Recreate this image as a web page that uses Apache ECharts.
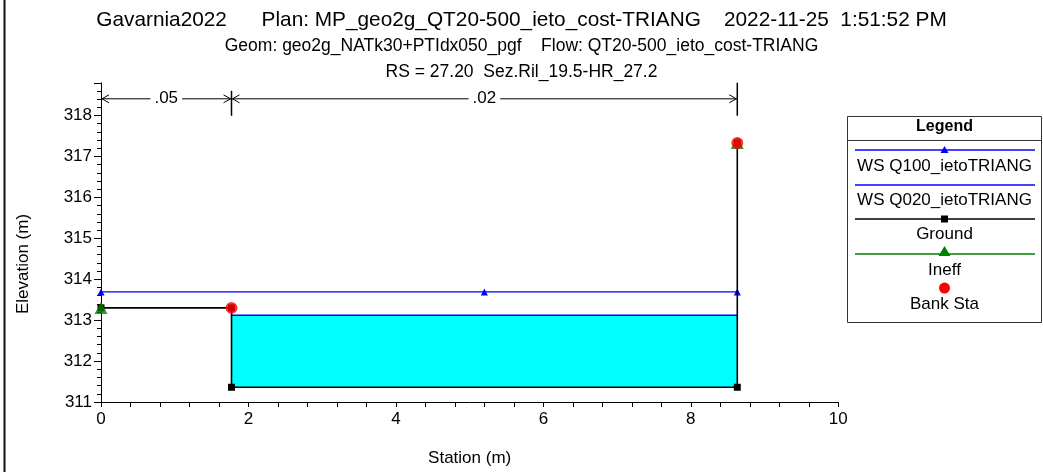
<!DOCTYPE html>
<html><head><meta charset="utf-8">
<script src="https://cdn.jsdelivr.net/npm/echarts@6/dist/echarts.min.js"></script>
<style>html,body{margin:0;padding:0;background:#fff}#c{width:1043px;height:472px}</style>
</head><body><div id="c"></div>
<script>
// ---- data ----
const titleLine1 = 'Gavarnia2022      Plan: MP_geo2g_QT20-500_ieto_cost-TRIANG    2022-11-25  1:51:52 PM';
const titleLine2 = 'Geom: geo2g_NATk30+PTIdx050_pgf    Flow: QT20-500_ieto_cost-TRIANG';
const titleLine3 = 'RS = 27.20  Sez.Ril_19.5-HR_27.2';
const xAxisName = 'Station (m)';
const yAxisName = 'Elevation (m)';
const ground = [[0, 313.30], [1.77, 313.30], [1.77, 311.36], [8.63, 311.36], [8.63, 317.33]];
const wsQ100 = [[0, 313.69], [5.2, 313.69], [8.63, 313.69]];
const wsQ020 = [[1.77, 313.12], [8.63, 313.12]];
const ineff = [[0, 313.30], [8.63, 317.33]];
const bankSta = [[1.77, 313.30], [8.63, 317.33]];
const nStations = [0, 1.77, 8.63];
const nValues = ['.05', '.02'];
const legendNames = ['WS Q100_ietoTRIANG', 'WS Q020_ietoTRIANG', 'Ground', 'Ineff', 'Bank Sta'];
const xRange = [0, 10];
const yRange = [311, 318.8];

// ---- styling ----
const FONT = 'Liberation Sans, Arial, sans-serif';
const BLUE = '#0000ff', CYAN = '#00ffff', GREEN = '#008000', RED = '#ff0000';

const chart = echarts.init(document.getElementById('c'), null, {renderer: 'canvas'});

const segments = nValues.map((v, i) => [nStations[i], nStations[i + 1], v, i === nValues.length - 1 ? 1 : 0]);

// fill polygon: water surface Q020 down to the ground inside its extent
function fillPolygon() {
  const x0 = wsQ020[0][0], x1 = wsQ020[wsQ020.length - 1][0], lvl = wsQ020[0][1];
  const g = ground.filter(p => p[0] >= x0 && p[0] <= x1 && p[1] <= lvl);
  return wsQ020.slice().concat(g.slice().reverse());
}

// legend graphics
const LX0 = 847.5, LX1 = 1041.5, LY0 = 116.5, LY1 = 322.5;
const lcx = (LX0 + LX1) / 2, la = 855, lb = 1035;
const legendGraphic = [
  {type: 'rect', shape: {x: LX0, y: LY0, width: LX1 - LX0, height: LY1 - LY0}, style: {fill: '#fff', stroke: '#333', lineWidth: 1}},
  {type: 'line', shape: {x1: LX0, y1: 140.5, x2: LX1, y2: 140.5}, style: {stroke: '#333', lineWidth: 1}},
  {type: 'text', style: {text: 'Legend', x: lcx, y: 127, align: 'center', verticalAlign: 'middle', font: 'bold 16px ' + FONT, fill: '#000'}},
  // WS Q100
  {type: 'line', shape: {x1: la, y1: 150, x2: lb, y2: 150}, style: {stroke: BLUE, lineWidth: 1.3}},
  {type: 'polygon', shape: {points: [[lcx, 146], [lcx - 4, 153], [lcx + 4, 153]]}, style: {fill: BLUE}},
  {type: 'text', style: {text: legendNames[0], x: lcx, y: 166, align: 'center', verticalAlign: 'middle', font: '17px ' + FONT, fill: '#000'}},
  // WS Q020
  {type: 'line', shape: {x1: la, y1: 185, x2: lb, y2: 185}, style: {stroke: BLUE, lineWidth: 1.3}},
  {type: 'text', style: {text: legendNames[1], x: lcx, y: 200, align: 'center', verticalAlign: 'middle', font: '17px ' + FONT, fill: '#000'}},
  // Ground
  {type: 'line', shape: {x1: la, y1: 219, x2: lb, y2: 219}, style: {stroke: '#000', lineWidth: 1.3}},
  {type: 'rect', shape: {x: lcx - 3.5, y: 215.5, width: 7, height: 7}, style: {fill: '#000'}},
  {type: 'text', style: {text: legendNames[2], x: lcx, y: 234, align: 'center', verticalAlign: 'middle', font: '17px ' + FONT, fill: '#000'}},
  // Ineff
  {type: 'line', shape: {x1: la, y1: 254, x2: lb, y2: 254}, style: {stroke: GREEN, lineWidth: 1.3}},
  {type: 'polygon', shape: {points: [[lcx, 246], [lcx - 6, 256], [lcx + 6, 256]]}, style: {fill: GREEN}},
  {type: 'text', style: {text: legendNames[3], x: lcx, y: 270, align: 'center', verticalAlign: 'middle', font: '17px ' + FONT, fill: '#000'}},
  // Bank Sta
  {type: 'circle', shape: {cx: lcx, cy: 288, r: 5.5}, style: {fill: RED}},
  {type: 'text', style: {text: legendNames[4], x: lcx, y: 304, align: 'center', verticalAlign: 'middle', font: '17px ' + FONT, fill: '#000'}},
  // left page border
  {type: 'rect', shape: {x: 3.5, y: 0, width: 2, height: 472}, style: {fill: '#111'}},
  // y axis name
  {type: 'text', rotation: Math.PI / 2, x: 23, y: 264, style: {text: yAxisName, x: 0, y: 0, align: 'center', verticalAlign: 'middle', font: '17px ' + FONT, fill: '#000'}}
];

const option = {
  animation: false,
  backgroundColor: '#fff',
  title: [
    {text: titleLine1, left: 'center', top: 5, textStyle: {fontFamily: FONT, fontSize: 20.8, fontWeight: 'normal', color: '#000'}},
    {text: titleLine2, left: 'center', top: 32, textStyle: {fontFamily: FONT, fontSize: 17.5, fontWeight: 'normal', color: '#000'}},
    {text: titleLine3, left: 'center', top: 58, textStyle: {fontFamily: FONT, fontSize: 17.5, fontWeight: 'normal', color: '#000'}}
  ],
  grid: {left: 101, right: 204.7, top: 82.8, bottom: 65.3, containLabel: false},
  xAxis: {
    type: 'value', min: xRange[0], max: xRange[1], interval: 2,
    name: xAxisName, nameLocation: 'middle', nameGap: 48,
    nameTextStyle: {fontFamily: FONT, fontSize: 17, color: '#000'},
    axisLine: {show: true, onZero: false, lineStyle: {color: '#000', width: 1}},
    axisTick: {show: true, length: 5, lineStyle: {color: '#000'}},
    minorTick: {show: true, splitNumber: 5, length: 5, lineStyle: {color: '#000'}},
    axisLabel: {fontFamily: FONT, fontSize: 17, color: '#000', margin: 9},
    splitLine: {show: false}
  },
  yAxis: {
    type: 'value', min: yRange[0], max: yRange[1], interval: 1,
    axisLine: {show: true, onZero: false, lineStyle: {color: '#000', width: 1}},
    axisTick: {show: true, length: 7, lineStyle: {color: '#000'}},
    minorTick: {show: true, splitNumber: 5, length: 4, lineStyle: {color: '#000'}},
    axisLabel: {fontFamily: FONT, fontSize: 17, color: '#000', margin: 9,
      formatter: v => (Math.abs(v - Math.round(v)) < 1e-6 ? String(Math.round(v)) : '')},
    splitLine: {show: false}
  },
  graphic: legendGraphic,
  series: [
    {
      type: 'custom', name: 'fill', z: 1, silent: true,
      data: [0],
      renderItem: (params, api) => ({
        type: 'polygon',
        shape: {points: fillPolygon().map(p => api.coord(p))},
        style: {fill: CYAN}
      })
    },
    {type: 'line', name: legendNames[0], data: wsQ100, z: 3, symbol: 'triangle', symbolSize: 7,
      itemStyle: {color: BLUE}, lineStyle: {color: BLUE, width: 1.3}},
    {type: 'line', name: legendNames[1], data: wsQ020, z: 3, showSymbol: false, symbol: 'none',
      lineStyle: {color: BLUE, width: 1.5}},
    {type: 'line', name: legendNames[2], data: ground, z: 4, symbol: 'rect', symbolSize: 7,
      itemStyle: {color: '#000'}, lineStyle: {color: '#000', width: 1.6}},
    {type: 'scatter', name: legendNames[3], data: ineff, z: 5, symbol: 'triangle', symbolSize: [13, 12],
      itemStyle: {color: GREEN}},
    {type: 'scatter', name: legendNames[4], data: bankSta, z: 6, symbol: 'circle', symbolSize: 12,
      itemStyle: {color: RED}},
    {
      type: 'custom', name: 'n', z: 7, silent: true, clip: false,
      data: segments,
      encode: {x: [0, 1]},
      renderItem: (params, api) => {
        const cs = params.coordSys;
        const top = cs.y;
        const pa = api.coord([api.value(0), yRange[0]]);
        const pb = api.coord([api.value(1), yRange[0]]);
        const xa = pa[0], xb = pb[0];
        const ay = top + 16;
        const isLast = api.value(3) === 1;
        const label = segments[params.dataIndex][2];
        const st = {stroke: '#000', lineWidth: 1, fill: null};
        return {
          type: 'group',
          children: [
            {type: 'line', shape: {x1: xa, y1: ay, x2: xb, y2: ay}, style: st},
            {type: 'polyline', shape: {points: [[xa + 8, ay - 4], [xa + 1, ay], [xa + 8, ay + 4]]}, style: st},
            {type: 'polyline', shape: {points: [[xb - 8, ay - 4], [xb - 1, ay], [xb - 8, ay + 4]]}, style: st},
            {type: 'line', shape: {x1: xb, y1: isLast ? top : top + 8, x2: xb, y2: top + 33}, style: {stroke: '#000', lineWidth: 1.5}},
            {type: 'text', style: {text: label, x: (xa + xb) / 2, y: ay, align: 'center', verticalAlign: 'middle',
              font: '17px ' + FONT, fill: '#000', backgroundColor: '#fff', padding: [0, 4]}}
          ]
        };
      }
    }
  ]
};
chart.setOption(option);
</script>
</body></html>
